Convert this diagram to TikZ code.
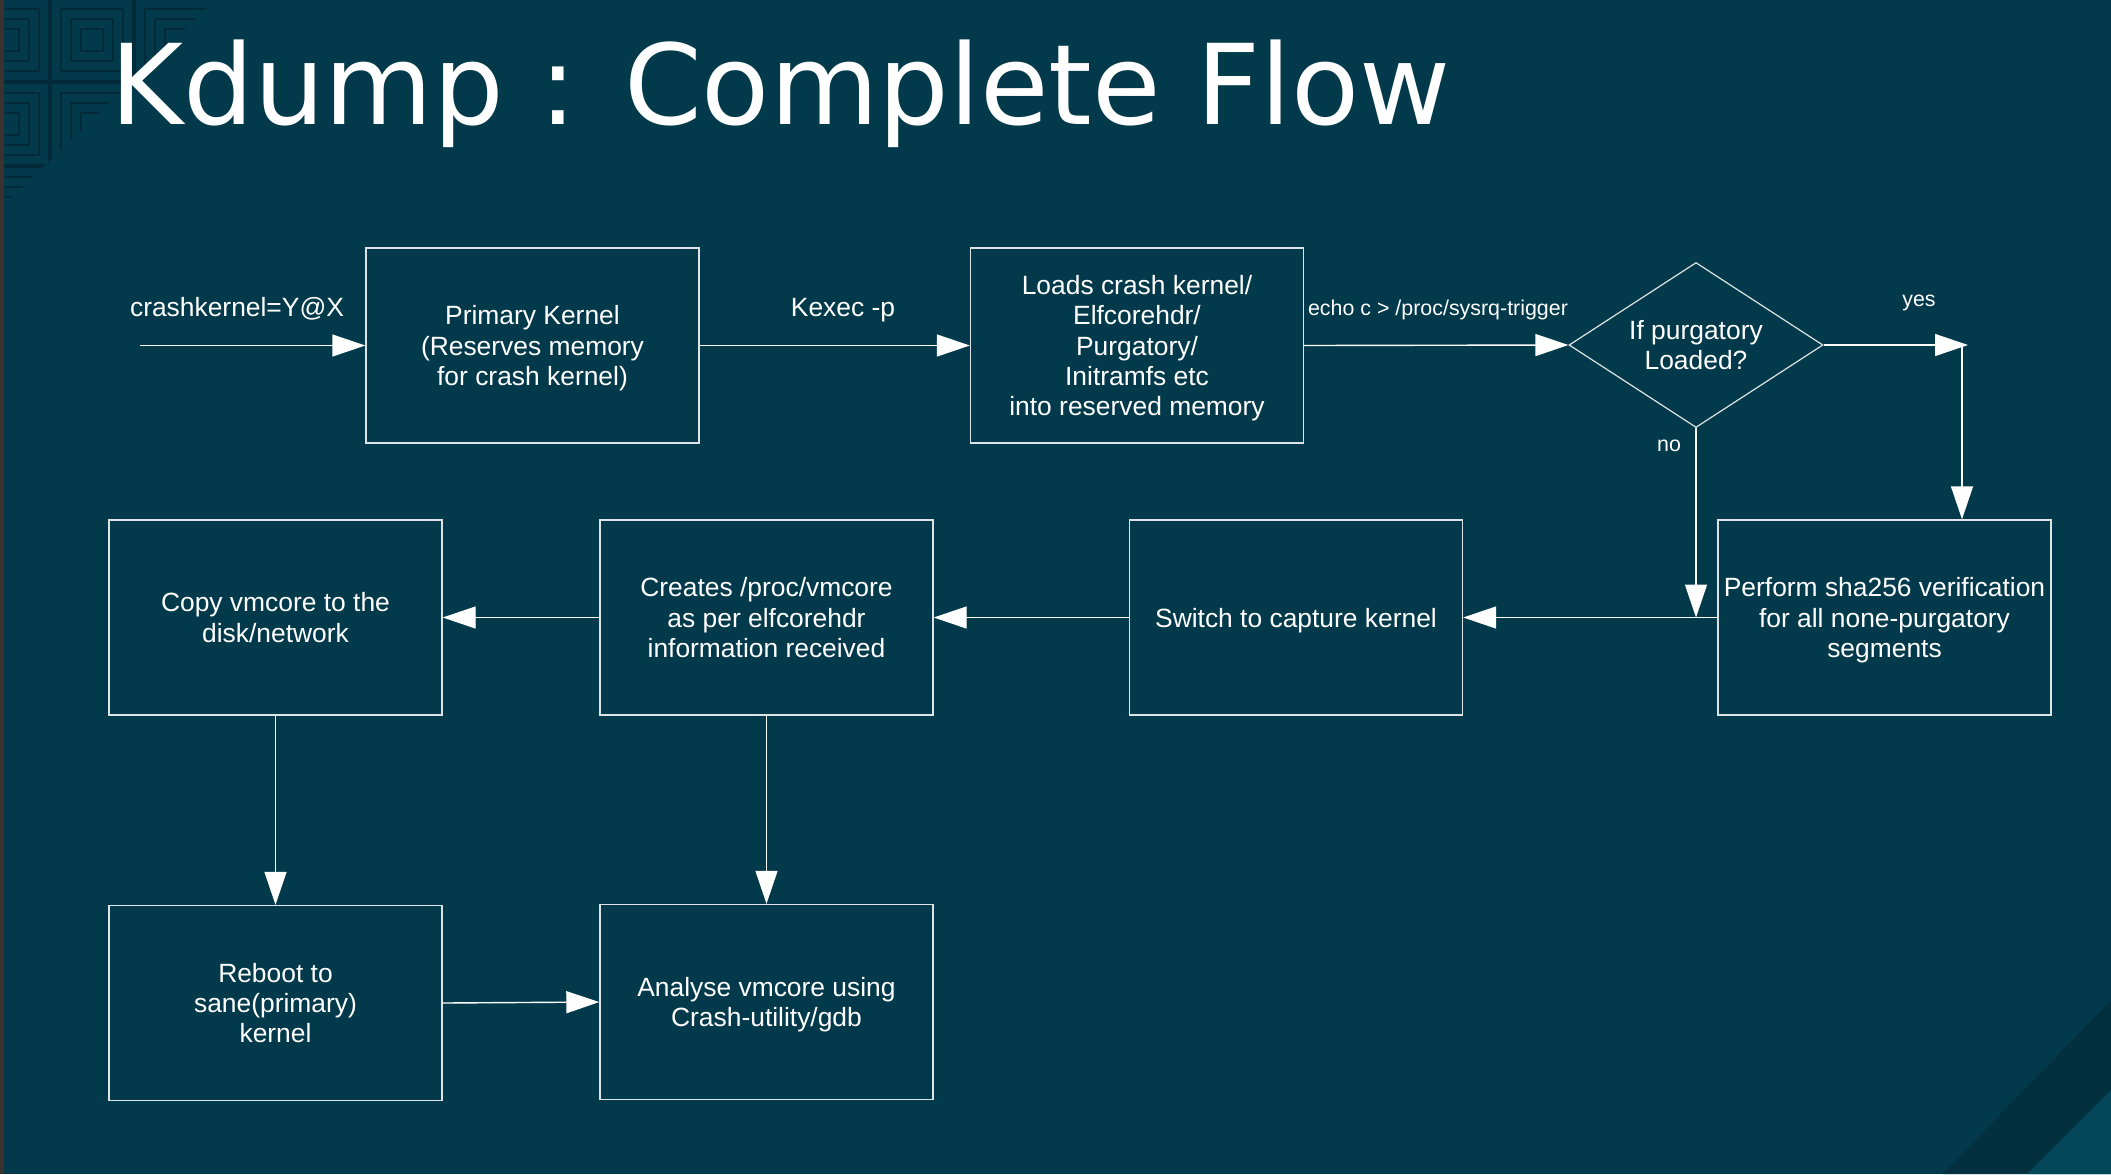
\documentclass[tikz,border=0pt]{standalone}
\usepackage{fontspec}
\setmainfont{Liberation Sans}
\newfontfamily\titlefont{DejaVu Sans}
\usetikzlibrary{shapes.geometric,arrows.meta}
\definecolor{bg}{HTML}{033A4B}
\definecolor{bgdark}{HTML}{02303F}
\definecolor{bglight}{HTML}{05475A}
\definecolor{pat}{HTML}{022A38}
\definecolor{strip}{HTML}{3A3330}
\definecolor{edge}{HTML}{DDE3E6}
\begin{document}
\begin{tikzpicture}[x=0.5pt,y=-0.5pt,
  box/.style={draw=edge, line width=0.7pt, minimum width=166.5pt, minimum height=97.5pt,
    inner sep=0pt, text=white, align=center, text depth=0pt, font=\fontsize{13.2}{15.2}\selectfont},
  decision/.style={diamond, draw=edge, line width=0.6pt, shape aspect=1.54, minimum width=127pt, minimum height=82.5pt,
    inner sep=0pt, text=white, align=center, font=\fontsize{13.2}{15.2}\selectfont},
  flow/.style={draw=white, line width=0.7pt, -{Triangle[length=16.5pt,width=11pt]}},
  lab/.style={text=white, font=\fontsize{13.2}{15.2}\selectfont, inner sep=0pt},
  smalllab/.style={text=white, font=\fontsize{10.7}{12.5}\selectfont, inner sep=0pt},
  patline/.style={draw=pat, line width=1pt}]
\useasboundingbox (0,0) rectangle (2111,1174);
% background
\fill[bg] (0,0) rectangle (2111,1174);
\fill[bgdark] (2111,1000) -- (2111,1174) -- (1943,1174) -- cycle;
\fill[bglight] (2111,1090) -- (2111,1174) -- (2027,1174) -- cycle;
\fill[strip] (0,0) rectangle (4,1174);
% corner pattern
\begin{scope}
  \clip (4,0) -- (215,0) -- (4,205) -- cycle;
  \foreach \cx in {8,92,176}{
    \foreach \cy in {-44,40,124,208}{
      \foreach \h in {11,21,31,41}{
        \draw[patline] (\cx-\h,\cy-\h) rectangle (\cx+\h,\cy+\h);
      }
    }
  }
\end{scope}
% title
\node[anchor=base west, inner sep=0pt, text=white, font=\titlefont\fontsize{55.7}{60}\selectfont]
  (title) at (110,124) {Kdump : Complete Flow};
% nodes
\node[box] (pk) at (532.5,345.5) {Primary Kernel\\(Reserves memory\\for crash kernel)};
\node[box] (lc) at (1137,345.5) {Loads crash kernel/\\Elfcorehdr/\\Purgatory/\\Initramfs etc\\into reserved memory};
\node[decision] (dec) at (1696,345) {If purgatory\\Loaded?};
\node[box] (sha) at (1884.5,617.5) {Perform sha256 verification\\for all none-purgatory\\segments};
\node[box] (sw) at (1296,617.5) {Switch to capture kernel};
\node[box] (cr) at (766.5,617.5) {Creates /proc/vmcore\\as per elfcorehdr\\information received};
\node[box] (cp) at (275.5,617.5) {Copy vmcore to the\\disk/network};
\node[box] (rb) at (275.5,1003) {Reboot to\\sane(primary)\\kernel};
\node[box] (an) at (766.5,1002) {Analyse vmcore using\\Crash-utility/gdb};
% helper coordinates
\coordinate (start) at (140,345.5);
\coordinate (yesend) at (1968,345);
\coordinate (yesturn) at (1962,345);
\coordinate (nojoin) at (1696,617.5);
% connectors
\draw[flow] (start) -- (pk.west);
\draw[flow] (pk.east) -- (lc.west);
\draw[flow] (lc.east) -- (dec.west);
\draw[flow] (dec.east) -- (yesend);
\draw[flow] (yesturn) -- (yesturn |- sha.north);
\draw[flow] (dec.south) -- (nojoin);
\draw[flow] (sha.west) -- (sw.east);
\draw[flow] (sw.west) -- (cr.east);
\draw[flow] (cr.west) -- (cp.east);
\draw[flow] (cp.south) -- (rb.north);
\draw[flow] (cr.south) -- (an.north);
\draw[flow] (rb.east) -- (an.west);
% labels
\node[lab] (l1) at (237,309) {crashkernel=Y@X};
\node[lab] (l2) at (843,310) {Kexec -p};
\node[smalllab] (l3) at (1438,310) {echo c > /proc/sysrq-trigger};
\node[smalllab] (l4) at (1919,303) {yes};
\node[smalllab] (l5) at (1669,446) {no};
\end{tikzpicture}
\end{document}
